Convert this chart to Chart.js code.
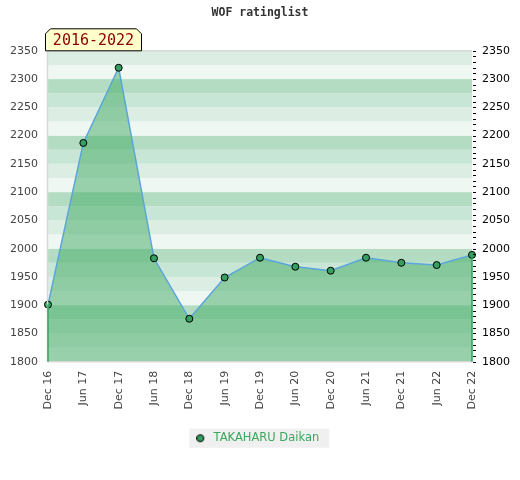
<!DOCTYPE html>
<html>
<head>
<meta charset="utf-8">
<script src="https://cdn.jsdelivr.net/npm/chart.js@4"></script>
<style>
  html, body { margin: 0; padding: 0; background: #fff; }
  #wrap { width: 520px; height: 480px; }
</style>
</head>
<body>
<div id="wrap"><canvas id="chart"></canvas></div>
<script>
// data
const labels = ['Dec 16', 'Jun 17', 'Dec 17', 'Jun 18', 'Dec 18', 'Jun 19', 'Dec 19',
                'Jun 20', 'Dec 20', 'Jun 21', 'Dec 21', 'Jun 22', 'Dec 22'];
const ratings = [1901, 2187, 2320, 1983, 1876, 1949, 1984, 1968, 1961, 1984, 1975, 1971, 1989];
const playerName = 'TAKAHARU Daikan';
const periodLabel = '2016-2022';
const yMin = 1800;
const yMax = 2350;

// band colours, bottom to top inside each 100 points
const bandColors = ['#eff7f2', '#dcede3', '#c8e6d5', '#b3dcc2'];

// legend marker, circle sits left of the image centre to widen the gap to the text
const marker = document.createElement('canvas');
marker.width = 16;
marker.height = 10;
{
    const m = marker.getContext('2d');
    m.beginPath();
    m.arc(4, 5, 3.5, 0, Math.PI * 2);
    m.fillStyle = '#34a060';
    m.fill();
    m.strokeStyle = '#000';
    m.lineWidth = 1;
    m.stroke();
}

// striped background, frame, edge lines, period box, legend background
const decor = {
    id: 'decor',
    beforeDraw(chart) {
        const ctx = chart.ctx;
        const hb = chart.legend && chart.legend.legendHitBoxes[0];
        if (hb) {
            ctx.save();
            ctx.fillStyle = '#f0f0f0';
            const cy = hb.top + hb.height / 2;
            ctx.fillRect(hb.left - 11.5, cy - 9.5, hb.width + 21.5, 19);
            ctx.restore();
        }
    },
    beforeDatasetsDraw(chart) {
        const ctx = chart.ctx;
        const y = chart.scales.y;
        const a = chart.chartArea;
        ctx.save();
        for (let v = yMin; v < yMax; v += 25) {
            const idx = Math.floor((v % 100) / 25);
            const top = y.getPixelForValue(v + 25);
            const bottom = y.getPixelForValue(v);
            ctx.fillStyle = bandColors[idx];
            ctx.fillRect(a.left, top, a.right - a.left, bottom - top);
        }
        ctx.restore();
    },
    afterDatasetsDraw(chart) {
        const ctx = chart.ctx;
        const x = chart.scales.x;
        const y = chart.scales.y;
        const a = chart.chartArea;
        ctx.save();
        // frame
        ctx.strokeStyle = '#d8d8d8';
        ctx.lineWidth = 1.5;
        ctx.beginPath();
        ctx.moveTo(a.left, a.top); ctx.lineTo(a.right, a.top);
        ctx.moveTo(a.left, a.bottom); ctx.lineTo(a.right, a.bottom);
        ctx.moveTo(a.left - 0.5, a.top); ctx.lineTo(a.left - 0.5, a.bottom);
        ctx.stroke();
        // green edges of the filled area
        ctx.strokeStyle = '#2ea35a';
        ctx.lineWidth = 1.5;
        const last = ratings.length - 1;
        ctx.beginPath();
        ctx.moveTo(x.getPixelForValue(0), y.getPixelForValue(ratings[0]));
        ctx.lineTo(x.getPixelForValue(0), a.bottom);
        ctx.moveTo(x.getPixelForValue(last), y.getPixelForValue(ratings[last]));
        ctx.lineTo(x.getPixelForValue(last), a.bottom);
        ctx.stroke();
        // minor ticks on the right axis
        ctx.strokeStyle = '#000';
        ctx.lineWidth = 1;
        ctx.beginPath();
        for (let v = yMin; v <= yMax; v += 10) {
            const py = Math.round(y.getPixelForValue(v)) + 0.5;
            ctx.moveTo(a.right + 1, py);
            ctx.lineTo(a.right + 4, py);
        }
        ctx.stroke();
        ctx.restore();
    },
    afterDraw(chart) {
        const ctx = chart.ctx;
        const a = chart.chartArea;
        // period box with clipped top corners
        const l = a.left - 2.5, r = l + 96, t = a.top - 22, b = a.top, c = 5;
        ctx.save();
        ctx.beginPath();
        ctx.moveTo(l, b);
        ctx.lineTo(l, t + c);
        ctx.lineTo(l + c, t);
        ctx.lineTo(r - c, t);
        ctx.lineTo(r, t + c);
        ctx.lineTo(r, b);
        ctx.closePath();
        ctx.fillStyle = '#ffffcc';
        ctx.fill();
        ctx.strokeStyle = '#000';
        ctx.lineWidth = 1;
        ctx.stroke();
        ctx.fillStyle = '#8b0000';
        ctx.font = '15px "DejaVu Sans Mono"';
        ctx.textAlign = 'center';
        ctx.textBaseline = 'middle';
        ctx.fillText(periodLabel, (l + r) / 2, (t + b) / 2 + 1);
        ctx.restore();
    }
};

const plainTick = (v) => String(v);

const chart = document.querySelector('#chart').getContext('2d');

new Chart(chart, {
    type: 'line',
    data: {
        labels: labels,
        datasets: [
            {
                label: playerName,
                data: ratings,
                borderColor: '#5aa5dc',
                borderWidth: 1.5,
                backgroundColor: 'rgba(65, 170, 100, 0.5)',
                fill: 'start',
                tension: 0,
                pointRadius: 3.5,
                pointBackgroundColor: '#34a060',
                pointBorderColor: '#000',
                pointBorderWidth: 1,
                yAxisID: 'y'
            }
        ]
    },
    plugins: [decor],
    options: {
        responsive: true,
        maintainAspectRatio: false,
        animation: false,
        layout: { padding: { left: 0, right: 0, top: 0, bottom: 26 } },
        plugins: {
            title: {
                display: true,
                text: 'WOF ratinglist',
                color: '#333',
                font: { family: 'DejaVu Sans Mono', size: 11.5, weight: 'bold' },
                padding: { top: 6, bottom: 31 }
            },
            legend: {
                position: 'bottom',
                labels: {
                    usePointStyle: true,
                    boxWidth: 7,
                    boxHeight: 7,
                    color: '#3aa65e',
                    font: { family: 'DejaVu Sans', size: 11.5 },
                    padding: 8,
                    generateLabels(c) {
                        const items = Chart.defaults.plugins.legend.labels.generateLabels(c);
                        items.forEach(it => { it.pointStyle = marker; });
                        return items;
                    }
                }
            },
            tooltip: { enabled: false }
        },
        scales: {
            x: {
                offset: false,
                grid: { display: false, drawTicks: false },
                border: { display: false },
                afterFit(scale) { scale.height += 6; },
                ticks: {
                    minRotation: 90,
                    maxRotation: 90,
                    autoSkip: false,
                    color: '#444',
                    font: { family: 'DejaVu Sans', size: 11 },
                    padding: 9
                }
            },
            y: {
                position: 'left',
                min: yMin,
                max: yMax,
                grid: { display: false, drawTicks: false },
                border: { display: false },
                ticks: {
                    stepSize: 50,
                    callback: plainTick,
                    color: '#444',
                    font: { family: 'DejaVu Sans', size: 11 },
                    padding: 10
                }
            },
            y2: {
                position: 'right',
                min: yMin,
                max: yMax,
                grid: { display: false, drawTicks: false },
                border: { display: false },
                ticks: {
                    stepSize: 50,
                    callback: plainTick,
                    color: '#000',
                    font: { family: 'DejaVu Sans', size: 11 },
                    padding: 10
                }
            }
        }
    }
});
</script>
</body>
</html>
